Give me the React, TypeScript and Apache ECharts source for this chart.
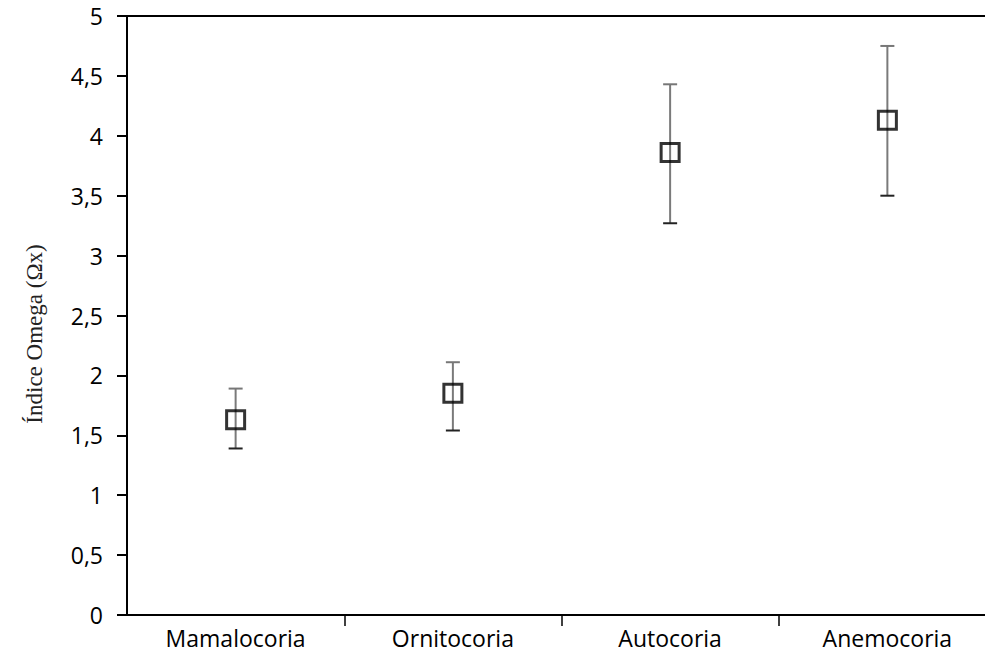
import React, { useEffect, useRef } from "react";
import * as echarts from "echarts";

const categories = ["Mamalocoria", "Ornitocoria", "Autocoria", "Anemocoria"];
const means = [1.63, 1.85, 3.86, 4.13];
const lower = [1.39, 1.54, 3.27, 3.5];
const upper = [1.89, 2.11, 4.43, 4.75];
const yMin = 0;
const yMax = 5;
const yStep = 0.5;
const yTitle = "Índice Omega (Ωx)";

export default function App() {
  const ref = useRef<HTMLDivElement>(null);
  useEffect(() => {
    if (!ref.current) return;
    const chart = echarts.init(ref.current, undefined, { renderer: "svg" });
    const errData = categories.map((_, i) => [i, lower[i], upper[i]]);
    chart.setOption({
      animation: false,
      backgroundColor: "#fff",
      grid: {
        left: 127,
        right: 0,
        top: 16,
        bottom: 40,
        show: true,
        borderColor: "#000",
        borderWidth: 2,
        backgroundColor: "transparent",
      },
      xAxis: {
        type: "category",
        data: categories,
        boundaryGap: true,
        axisLine: { show: true, lineStyle: { color: "#000", width: 2 } },
        axisTick: {
          show: true,
          length: 11,
          interval: (i: number) => i > 0,
          lineStyle: { color: "#000", width: 1.5 },
        },
        axisLabel: {
          color: "#000",
          fontFamily: "Open Sans",
          fontSize: 23,
          margin: 11,
        },
        splitLine: { show: false },
      },
      yAxis: {
        type: "value",
        min: yMin,
        max: yMax,
        interval: yStep,
        axisLine: { show: true, lineStyle: { color: "#000", width: 2 } },
        axisTick: { show: true, length: 10, lineStyle: { color: "#000", width: 2 } },
        axisLabel: {
          color: "#000",
          fontFamily: "Open Sans",
          fontSize: 23,
          margin: 24,
          formatter: (v: number) => String(v).replace(".", ","),
        },
        splitLine: { show: false },
      },
      graphic: [
        {
          type: "text",
          x: 34,
          y: 334,
          rotation: Math.PI / 2,
          style: {
            text: yTitle,
            fontFamily: "Liberation Serif",
            fontSize: 23,
            fill: "#222",
            textAlign: "center",
            textVerticalAlign: "middle",
          },
        },
      ],
      series: [
        {
          type: "custom",
          z: 1,
          data: errData,
          renderItem: (params: any, api: any) => {
            const x = api.value(0);
            const lo = api.coord([x, api.value(1)]);
            const hi = api.coord([x, api.value(2)]);
            const hw = 7;
            return {
              type: "group",
              children: [
                {
                  type: "line",
                  shape: { x1: lo[0], y1: lo[1], x2: hi[0], y2: hi[1] },
                  style: { stroke: "#7a7a7a", lineWidth: 2 },
                },
                {
                  type: "line",
                  shape: { x1: hi[0] - hw, y1: hi[1], x2: hi[0] + hw, y2: hi[1] },
                  style: { stroke: "#777", lineWidth: 2 },
                },
                {
                  type: "line",
                  shape: { x1: lo[0] - hw, y1: lo[1], x2: lo[0] + hw, y2: lo[1] },
                  style: { stroke: "#222", lineWidth: 2 },
                },
              ],
            };
          },
        },
        {
          type: "scatter",
          z: 3,
          data: means,
          symbol: "rect",
          symbolSize: 18,
          itemStyle: { color: "transparent", borderColor: "#000", borderWidth: 3 },
        },
      ],
    });
    return () => chart.dispose();
  }, []);
  return (
    <div
      style={{
        position: "fixed",
        left: 0,
        top: 0,
        width: 985,
        height: 655,
        overflow: "hidden",
        background: "#fff",
      }}
    >
      <div ref={ref} style={{ width: 996, height: 655 }} />
    </div>
  );
}
